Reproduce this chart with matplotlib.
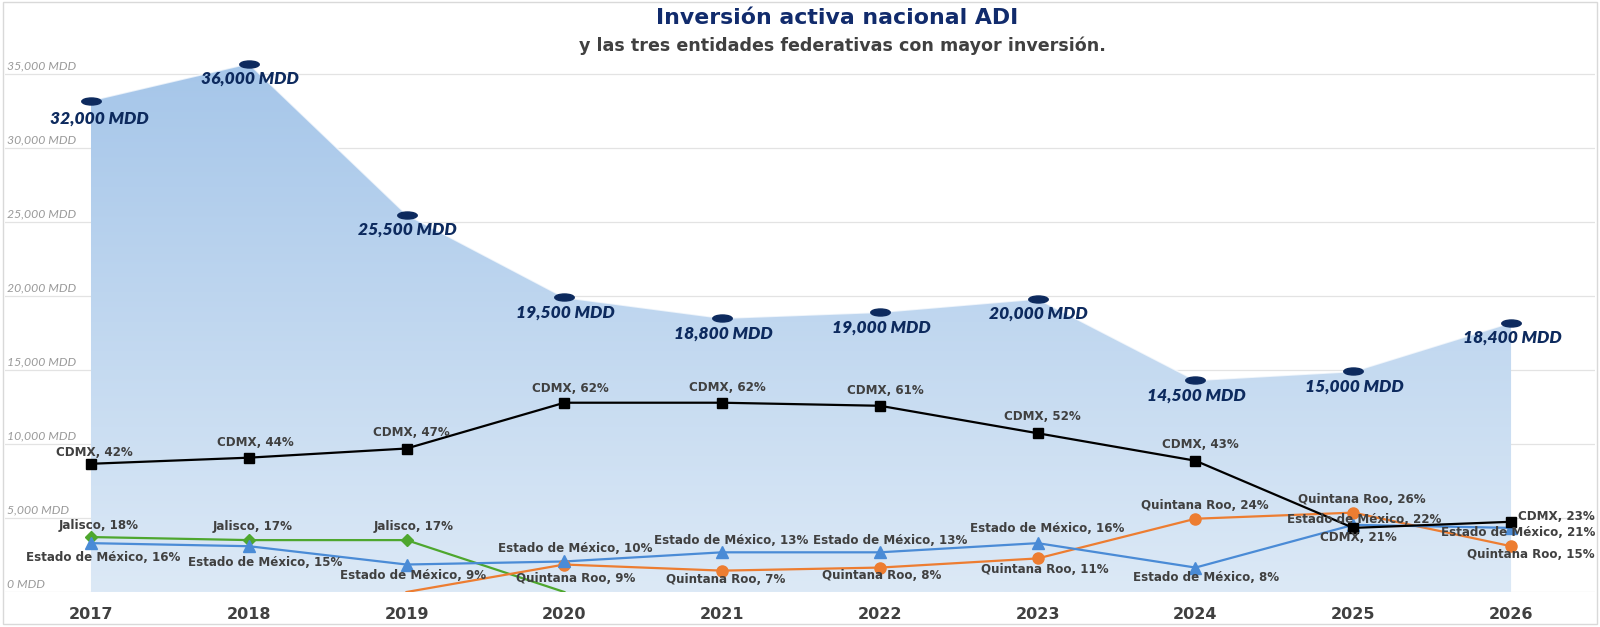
import numpy as np
import matplotlib.pyplot as plt
from matplotlib.colors import LinearSegmentedColormap
from matplotlib.patches import Polygon, Rectangle
from matplotlib.path import Path
from matplotlib.transforms import Affine2D

# --- data ---
years = ["2017", "2018", "2019", "2020", "2021", "2022", "2023", "2024", "2025", "2026"]
# national active investment (MDD) as drawn, and the text printed next to each point
inversion = [33200, 35700, 25500, 19900, 18500, 18900, 19800, 14300, 14900, 18200]
inversion_txt = ["32,000 MDD", "36,000 MDD", "25,500 MDD", "19,500 MDD", "18,800 MDD",
                 "19,000 MDD", "20,000 MDD", "14,500 MDD", "15,000 MDD", "18,400 MDD"]
# share of investment (%) of the top states
cdmx = [42, 44, 47, 62, 62, 61, 52, 43, 21, 23]
edomex = [16, 15, 9, 10, 13, 13, 16, 8, 22, 21]
qroo = [np.nan, np.nan, 0, 9, 7, 8, 11, 24, 26, 15]
jalisco = [18, 17, 17, 0, np.nan, np.nan, np.nan, np.nan, np.nan, np.nan]

# label offsets in pixels (dx, dy up) for each point
off_cdmx = [(3, 11), (7, 15), (5, 16), (6, 14), (5, 15), (5, 15), (5, 17), (5, 16), (5, -10), (84, 5)]
off_edomex = [(12, -14), (16, -16), (6, -11), (11, 13), (9, 12), (10, 12), (9, 15), (11, -10), (11, 5), (84, -5)]
off_qroo = [None, None, None, (11, -14), (4, -9), (2, -8), (7, -11), (9, 13), (9, 13), (84, -8)]
off_jal = [(8, 12), (4, 14), (7, 14), None, None, None, None, None, None, None]

NAVY = "#0d2a5e"
GRAY = "#404040"
PX = 0.72  # pixel -> point at dpi 100

fig = plt.figure(figsize=(16, 6.27), dpi=100)
ax = fig.add_axes([5 / 1600, 35 / 627, 1590 / 1600, 577 / 627])
x = np.arange(len(years))
XMIN, XMAX = -0.545, 9.532
YMAX = 38986
ax.set_xlim(XMIN, XMAX)
ax.set_ylim(0, YMAX)

# gridlines + italic y labels
ax.set_yticks(range(0, 35001, 5000))
ax.set_yticklabels([])
ax.tick_params(axis="y", length=0)
ax.grid(axis="y", color="#e3e3e3", lw=0.9)
ax.set_axisbelow(True)
for t in range(0, 35001, 5000):
    ax.annotate(f"{t:,} MDD", xy=(0.0013, t), xycoords=("axes fraction", "data"),
                xytext=(0, 1.5), textcoords="offset points", ha="left", va="bottom",
                fontsize=8.8, style="italic", color="#9a9a9a", family="Lato")

# gradient area
verts = list(zip(x, inversion)) + [(x[-1], 0), (x[0], 0)]
poly = Polygon(verts, closed=True, facecolor="none", edgecolor="none")
ax.add_patch(poly)
cmap = LinearSegmentedColormap.from_list("area", ["#dce9f6", "#a4c5e9"])
grad = np.linspace(0, 1, 256).reshape(-1, 1)
im = ax.imshow(grad, extent=(XMIN, XMAX, 0, 36500), origin="lower", aspect="auto",
               cmap=cmap, zorder=1)
im.set_clip_path(poly)
ax.plot(x, inversion, color="white", lw=1.2, alpha=0.7, zorder=1.5)

ell = Path.unit_circle().transformed(Affine2D().scale(1, 0.36))
ax.plot(x, inversion, ls="none", marker=ell, markersize=14, color=NAVY, zorder=3)
for i, (v, s) in enumerate(zip(inversion, inversion_txt)):
    dx = 8 if i == 0 else 1
    dy = -18 if i == 0 else -15
    ax.annotate(s, xy=(i, v), xytext=(dx * PX, dy * PX), textcoords="offset points",
                ha="center", va="center", fontsize=12.5, fontweight="heavy",
                style="italic", color=NAVY, family="Lato", zorder=4)

# percentage lines on a second axis
ax2 = ax.twinx()
ax2.set_ylim(0, 189)
ax2.axis("off")

series = [
    ("Jalisco", jalisco, "#4ea72e", "D", 6, off_jal),
    ("Quintana Roo", qroo, "#ed7d31", "o", 8, off_qroo),
    ("Estado de México", edomex, "#4a8bd6", "^", 8, off_edomex),
    ("CDMX", cdmx, "black", "s", 7, off_cdmx),
]
for name, vals, col, mk, ms, offs in series:
    vals = np.array(vals, dtype=float)
    ax2.plot(x, vals, color=col, lw=1.6, zorder=5)
    shown = np.where(vals > 0, vals, np.nan)
    ax2.plot(x, shown, ls="none", marker=mk, markersize=ms, color=col, zorder=6)
    for i, v in enumerate(vals):
        if offs[i] is None or not v > 0:
            continue
        dx, dy = offs[i]
        ha = "right" if i == len(vals) - 1 else "center"
        ax2.annotate(f"{name}, {int(v)}%", xy=(i, v), xytext=(dx * PX, dy * PX),
                     textcoords="offset points", ha=ha, va="center", fontsize=8.6,
                     fontweight="bold", color=GRAY, family="DejaVu Sans", zorder=7)

ax.set_xticks(x)
ax.set_xticklabels(years, fontsize=11.5, fontweight="bold", color=GRAY)
ax.tick_params(axis="x", length=0, pad=11)
for sp in ax.spines.values():
    sp.set_visible(False)

fig.text(837 / 1600, 1 - 18 / 627, "Inversión activa nacional ADI", ha="center",
         va="center", fontsize=15.8, fontweight="bold", color="#112b6c")
fig.text(842 / 1600, 1 - 46 / 627, "y las tres entidades federativas con mayor inversión.",
         ha="center", va="center", fontsize=12.6, fontweight="bold", color=GRAY)

fig.patches.append(Rectangle((0.002, 0.004), 0.996, 0.993, transform=fig.transFigure,
                             fill=False, edgecolor="#d9d9d9", lw=1))

fig.savefig("out.png", dpi=100)
